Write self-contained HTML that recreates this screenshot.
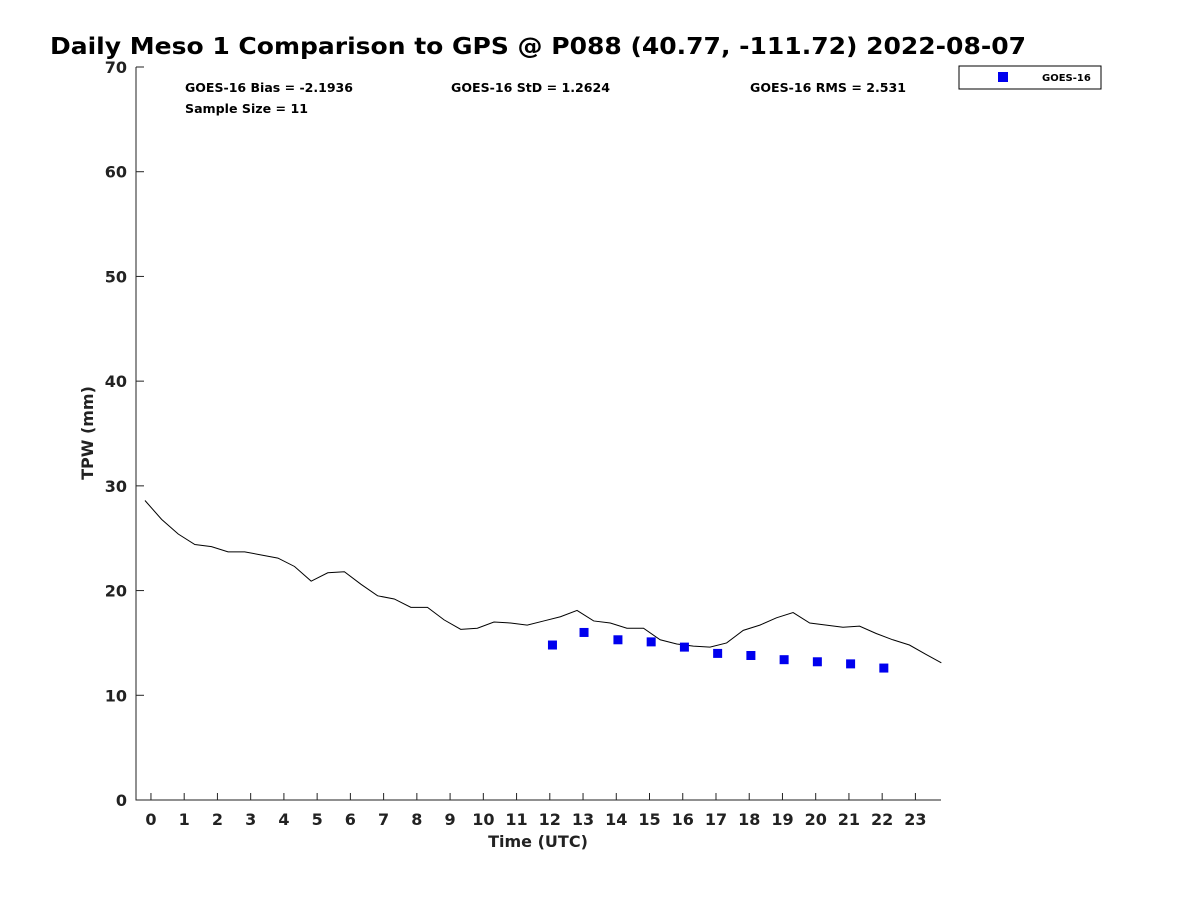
<!DOCTYPE html>
<html><head><meta charset="utf-8"><style>
body{margin:0;background:#fff;font-family:"Liberation Sans","DejaVu Sans",sans-serif;}
svg text{font-family:"DejaVu Sans","Liberation Sans",sans-serif;font-weight:bold;}
</style></head><body>
<svg id="chart" width="1200" height="900">
<rect width="1200" height="900" fill="#fff"/>
<text x="50" y="54" font-size="23" fill="#000" textLength="976" lengthAdjust="spacingAndGlyphs">Daily Meso 1 Comparison to GPS @ P088 (40.77, -111.72) 2022-08-07</text>
<g id="axes"></g>
<g id="series"></g>
<text x="185" y="92" font-size="12" textLength="168" lengthAdjust="spacingAndGlyphs">GOES-16 Bias = -2.1936</text>
<text x="451" y="92" font-size="12" textLength="159" lengthAdjust="spacingAndGlyphs">GOES-16 StD = 1.2624</text>
<text x="750" y="92" font-size="12" textLength="156" lengthAdjust="spacingAndGlyphs">GOES-16 RMS = 2.531</text>
<text x="185" y="113" font-size="12" textLength="123" lengthAdjust="spacingAndGlyphs">Sample Size = 11</text>
<g>
<rect x="959" y="66" width="142" height="23" fill="#fff" stroke="#000" stroke-width="1"/>
<rect x="998" y="72" width="10" height="10" fill="#0000ee"/>
<text x="1042" y="81" font-size="10">GOES-16</text>
</g>
<text transform="translate(93,433) rotate(-90)" text-anchor="middle" font-size="16" fill="#222">TPW (mm)</text>
<text x="538" y="847" text-anchor="middle" font-size="16" fill="#222">Time (UTC)</text>
</svg>
<script>
const gpsTimes = [-0.18,0.32,0.82,1.32,1.82,2.32,2.82,3.32,3.82,4.32,4.82,5.32,5.82,6.32,6.82,7.32,7.82,8.32,8.82,9.32,9.82,10.32,10.82,11.32,11.82,12.32,12.82,13.32,13.82,14.32,14.82,15.32,15.82,16.32,16.82,17.32,17.82,18.32,18.82,19.32,19.82,20.32,20.82,21.32,21.82,22.32,22.82,23.32,23.78];
const gpsTpw = [28.6,26.8,25.4,24.4,24.2,23.7,23.7,23.4,23.1,22.3,20.9,21.7,21.8,20.6,19.5,19.2,18.4,18.4,17.2,16.3,16.4,17.0,16.9,16.7,17.1,17.5,18.1,17.1,16.9,16.4,16.4,15.3,14.9,14.7,14.6,15.0,16.2,16.7,17.4,17.9,16.9,16.7,16.5,16.6,15.9,15.3,14.8,13.9,13.1];
const goesTimes = [12.08,13.03,14.05,15.05,16.05,17.05,18.05,19.05,20.05,21.05,22.05];
const goesTpw = [14.8,16.0,15.3,15.1,14.6,14.0,13.8,13.4,13.2,13.0,12.6];
const xTicks = [0,1,2,3,4,5,6,7,8,9,10,11,12,13,14,15,16,17,18,19,20,21,22,23];
const yTicks = [0,10,20,30,40,50,60,70];

const L=136,R=941,T=67,B=800,XMIN=-0.45,XMAX=23.77,YMIN=0,YMAX=70;
const xs=v=>L+(v-XMIN)/(XMAX-XMIN)*(R-L);
const ys=v=>B-(v-YMIN)/(YMAX-YMIN)*(B-T);
const NS='http://www.w3.org/2000/svg';
function mk(tag,attrs,parent){const e=document.createElementNS(NS,tag);for(const k in attrs)e.setAttribute(k,attrs[k]);parent.appendChild(e);return e;}
const axes=document.getElementById('axes'),series=document.getElementById('series');
let a=mk('path',{d:`M${L},${T}V${B}H${R}`,fill:'none',stroke:'#222','stroke-width':1},axes);


xTicks.forEach(t=>{const x=xs(t);
 let l=mk('line',{x1:x,x2:x,y1:B,y2:B-7,stroke:'#222'},axes);
 
 
 let tx=mk('text',{x:x,y:B+25,'text-anchor':'middle','font-size':16,fill:'#222'},axes);tx.textContent=t;
 
 });
yTicks.forEach(t=>{const y=ys(t);
 let l=mk('line',{x1:L,x2:L+8,y1:y,y2:y,stroke:'#222'},axes);
 
 
 let tx=mk('text',{x:L-9,y:y+6,'text-anchor':'end','font-size':16,fill:'#222'},axes);tx.textContent=t;
 
 });
let p=mk('polyline',{points:gpsTimes.map((t,i)=>xs(t)+','+ys(gpsTpw[i])).join(' '),fill:'none',stroke:'#000','stroke-width':1},series);


goesTimes.forEach((t,i)=>{let r=mk('rect',{x:xs(t)-4.5,y:ys(goesTpw[i])-4.5,width:9,height:9,fill:'#0000ee'},series);
 
 });
</script>
</body></html>
